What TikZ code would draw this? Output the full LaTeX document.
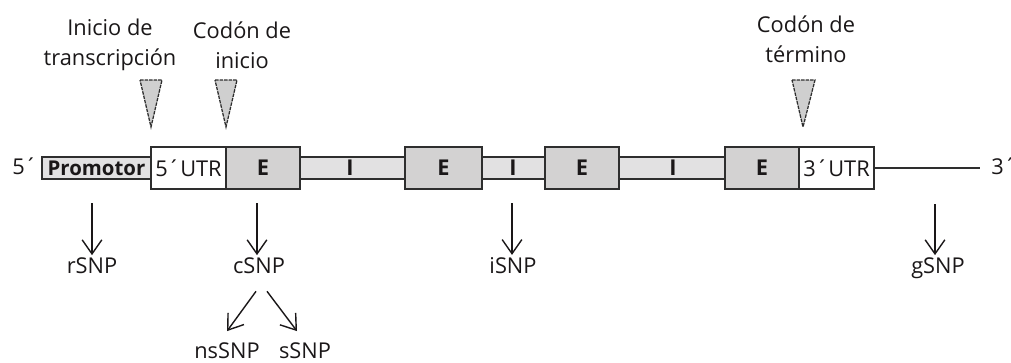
\documentclass[tikz,border=0pt]{standalone}
\usepackage{fontspec}
\setmainfont{Open Sans}
\usetikzlibrary{arrows.meta}
\definecolor{txt}{HTML}{1A1718}
\definecolor{exonfill}{HTML}{D3D2D2}
\definecolor{barfill}{HTML}{E2E1E2}
\definecolor{edgecol}{HTML}{2E2E2E}
\definecolor{trifill}{HTML}{CFCFCF}
\begin{document}
\begin{tikzpicture}[x=0.025cm,y=-0.025cm,
  every node/.style={text=txt,font=\fontsize{15.5}{21.5}\selectfont},
  seg/.style={draw=edgecol,line width=1.1pt,inner sep=0pt,anchor=center},
  barbox/.style={seg,fill=barfill,minimum height=22*0.025cm},
  exonbox/.style={seg,fill=exonfill,minimum height=42*0.025cm,font=\fontsize{15.5}{18}\selectfont\bfseries},
  utrbox/.style={seg,fill=white,minimum height=42*0.025cm},
  marker/.style={draw=edgecol,line width=0.9pt,dash pattern=on 2.5pt off 0.7pt,fill=trifill,line join=miter},
  toplabel/.style={align=center,inner sep=0pt},
  snplabel/.style={anchor=base,inner sep=0pt,outer sep=1.5pt},
  snparrow/.style={draw=txt,line width=1pt,-{Straight Barb[length=10pt,width=14pt,line width=1pt]}}
]
\useasboundingbox (0,0) rectangle (1011,362);

% track
\node[barbox,minimum width=573*0.025cm] (introns) at (512.5,168) {};
\node[barbox,minimum width=109*0.025cm,font=\fontsize{14.5}{18}\selectfont\bfseries] (prom) at (96.5,168) {Promotor};
\node[utrbox,minimum width=75*0.025cm] (utr5) at (188.5,168) {5´UTR};
\node[exonbox,minimum width=74*0.025cm] (e1) at (263,168) {E};
\node[exonbox,minimum width=77*0.025cm] (e2) at (443.5,168) {E};
\node[exonbox,minimum width=74*0.025cm] (e3) at (582,168) {E};
\node[exonbox,minimum width=74*0.025cm] (e4) at (762,168) {E};
\node[utrbox,minimum width=75*0.025cm] (utr3) at (836.5,168) {3´UTR};
\node[inner sep=0pt,font=\fontsize{15.5}{18}\selectfont\bfseries] (i1) at (350,168) {I};
\node[inner sep=0pt,font=\fontsize{15.5}{18}\selectfont\bfseries] (i2) at (513,168) {I};
\node[inner sep=0pt,font=\fontsize{15.5}{18}\selectfont\bfseries] (i3) at (673,168) {I};
\node[inner sep=0pt,anchor=west] (five) at (12,166) {5´};
\node[inner sep=0pt,anchor=west] (three) at (991,166) {3´};
\draw[edgecol,line width=1.1pt] (utr3.east) -- (980,168);

% markers
\draw[marker] (140,80) -- (162,80) -- (151,127) -- cycle;
\draw[marker] (215,80) -- (237,80) -- (226,127) -- cycle;
\draw[marker] (792,80) -- (815,80) -- (803,127) -- cycle;

% top labels
\node[toplabel] (lab1) at (110,45) {Inicio de\\transcripción};
\node[toplabel] (lab2) at (242,45) {Codón de\\inicio};
\node[toplabel] (lab3) at (806,39) {Codón de\\término};

% SNP labels
\node[snplabel] (rsnp) at (92,273) {rSNP};
\node[snplabel] (csnp) at (259,273) {cSNP};
\node[snplabel] (isnp) at (513,273) {iSNP};
\node[snplabel] (gsnp) at (938,273) {gSNP};
\node[snplabel] (nssnp) at (227,358) {nsSNP};
\node[snplabel] (ssnp) at (305,358) {sSNP};

\coordinate (ra) at (92,203);
\coordinate (ca) at (257,203);
\coordinate (ia) at (512,203);
\coordinate (ga) at (935,204);
\draw[snparrow] (ra) -- (rsnp);
\draw[snparrow] (ca) -- (ca |- csnp.north);
\draw[snparrow] (ia) -- (ia |- isnp.north);
\draw[snparrow] (ga) -- (ga |- gsnp.north);
\draw[snparrow] ([shift={(-3,16)}]csnp.south) -- ([shift={(0,-9)}]nssnp.north);
\draw[snparrow] ([shift={(8,16)}]csnp.south) -- ([shift={(-8,-9)}]ssnp.north);
\end{tikzpicture}
\end{document}
